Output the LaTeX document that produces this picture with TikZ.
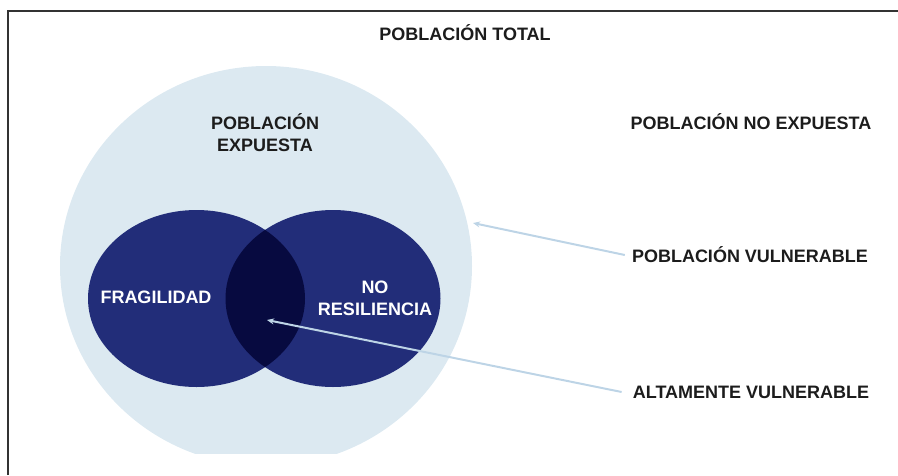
\documentclass[tikz,border=0pt]{standalone}
\usepackage{fontspec}
\setmainfont{Liberation Sans}
\usetikzlibrary{arrows.meta}
\definecolor{paleblue}{HTML}{DCE9F1}
\definecolor{navy}{HTML}{222D79}
\definecolor{deepnavy}{HTML}{070A40}
\definecolor{arrowblue}{HTML}{BDD4E6}
\definecolor{txt}{HTML}{1C1C1C}
\definecolor{frameline}{HTML}{333333}
\tikzset{
  lbl/.style={font=\bfseries\fontsize{18}{21}\selectfont, text=txt, inner sep=0pt, align=center},
  wlbl/.style={lbl, text=white},
  pointer/.style={draw=arrowblue, line width=2pt, -{Stealth[length=7pt,width=6pt]}},
}
\begin{document}
\begin{tikzpicture}[x=1pt,y=-1pt]
\useasboundingbox (0,0) rectangle (898,475);
% frame
\draw[frameline, line width=2pt] (8,475) -- (8,11) -- (898,11);
% big exposed-population ellipse, cut at bottom
\begin{scope}
  \clip (0,0) rectangle (898,453);
  \fill[paleblue] (266,266) ellipse [x radius=206, y radius=200];
\end{scope}
% two dark ellipses
\fill[navy] (196.5,298.5) ellipse [x radius=108.5, y radius=88.5];
\fill[navy] (333,298.5) ellipse [x radius=107.5, y radius=88.5];
\begin{scope}
  \clip (196.5,298.5) ellipse [x radius=108.5, y radius=88.5];
  \fill[deepnavy] (333,298.5) ellipse [x radius=107.5, y radius=88.5];
\end{scope}
% labels
\node[lbl] (total) at (465,33) {POBLACIÓN TOTAL};
\node[lbl] (exp) at (265,133) {POBLACIÓN\\[1pt]EXPUESTA};
\node[lbl] (noexp) at (751,122) {POBLACIÓN NO EXPUESTA};
\node[lbl] (vul) at (750,255) {POBLACIÓN VULNERABLE};
\node[lbl] (alta) at (751,392) {ALTAMENTE VULNERABLE};
\node[wlbl] (frag) at (156,297) {FRAGILIDAD};
\node[wlbl] (nores) at (375,298) {NO\\[1pt]RESILIENCIA};
% pointers
\coordinate (vtip) at (473,223);
\coordinate (atip) at (267,320);
\draw[pointer] ([xshift=-7pt]vul.west) -- (vtip);
\draw[pointer] ([xshift=-11pt]alta.west) -- (atip);
\end{tikzpicture}
\end{document}
